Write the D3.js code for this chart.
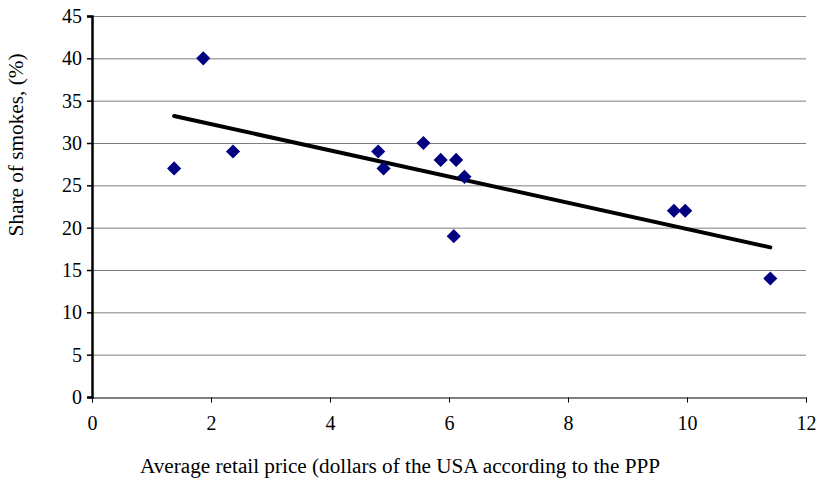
<!DOCTYPE html>
<html><head><meta charset="utf-8">
<script src="https://cdn.jsdelivr.net/npm/d3@7"></script>
<style>body{margin:0;background:#fff}svg{display:block}</style>
</head><body>
<svg id="c" width="819" height="483"></svg>
<script>
const priceX = [1.38, 1.87, 2.37, 4.81, 4.90, 5.57, 5.86, 6.12, 6.26, 6.08, 9.78, 9.97, 11.40];
const shareY = [27, 40, 29, 29, 27, 30, 28, 28, 26, 19, 22, 22, 14];
const xTicks = [0, 2, 4, 6, 8, 10, 12];
const yTicks = [0, 5, 10, 15, 20, 25, 30, 35, 40, 45];
const xTitle = "Average retail price (dollars of the USA according to the PPP";
const yTitle = "Share of smokes, (%)";

const svg = d3.select("#c");
const L = 92, R = 806, T = 16, B = 397;
const x = d3.scaleLinear().domain([0, 12]).range([L, R]);
const y = d3.scaleLinear().domain([0, 45]).range([B, T]);
const font = "'Liberation Serif','Times New Roman',serif";
const fs = 20;

// gridlines
svg.append("g").selectAll("line").data(yTicks.filter(d => d > 0)).join("line")
  .attr("x1", L).attr("x2", R).attr("y1", d => y(d) + 0.5).attr("y2", d => y(d) + 0.5)
  .attr("stroke", "#7f7f7f").attr("stroke-width", 1);

// x axis
const xa = svg.append("g").attr("transform", `translate(0,${B + 0.5})`)
  .call(d3.axisBottom(x).tickValues(xTicks).tickSize(5).tickPadding(13).tickFormat(d3.format("d")));
xa.select(".domain").attr("stroke", "#000");
xa.selectAll("text").attr("font-family", font).attr("font-size", fs).attr("fill", "#000");

// y axis
const ya = svg.append("g").attr("transform", `translate(${L},0)`)
  .call(d3.axisLeft(y).tickValues(yTicks).tickSize(5).tickPadding(5).tickFormat(d3.format("d")));
ya.select(".domain").attr("stroke", "#000").attr("stroke-width", 2.5);
ya.selectAll(".tick line").attr("stroke-width", 1.5);
ya.selectAll("text").attr("font-family", font).attr("font-size", fs).attr("fill", "#000");

// trendline (least squares)
const mx = d3.mean(priceX), my = d3.mean(shareY);
const sxy = d3.sum(priceX, (v, i) => (v - mx) * (shareY[i] - my));
const sxx = d3.sum(priceX, v => (v - mx) * (v - mx));
const slope = sxy / sxx, icpt = my - slope * mx;
const x0 = d3.min(priceX), x1 = d3.max(priceX);
svg.append("line")
  .attr("x1", x(x0)).attr("y1", y(icpt + slope * x0))
  .attr("x2", x(x1)).attr("y2", y(icpt + slope * x1))
  .attr("stroke", "#000").attr("stroke-width", 4).attr("stroke-linecap", "round");

// points
const sym = d3.symbol().type(d3.symbolSquare).size(100);
svg.append("g").selectAll("path").data(priceX).join("path")
  .attr("d", sym)
  .attr("transform", (d, i) => `translate(${x(d)},${y(shareY[i])}) rotate(45)`)
  .attr("fill", "#000080");

// titles
svg.append("text").attr("x", 140).attr("y", 473).attr("font-family", font).attr("font-size", fs)
  .attr("textLength", 520).attr("lengthAdjust", "spacingAndGlyphs")
  .attr("fill", "#000").text(xTitle);
svg.append("text").attr("transform", `translate(23,145) rotate(-90)`)
  .attr("text-anchor", "middle").attr("font-family", font).attr("font-size", fs)
  .attr("textLength", 183).attr("lengthAdjust", "spacingAndGlyphs")
  .attr("fill", "#000").text(yTitle);
</script>
</body></html>
